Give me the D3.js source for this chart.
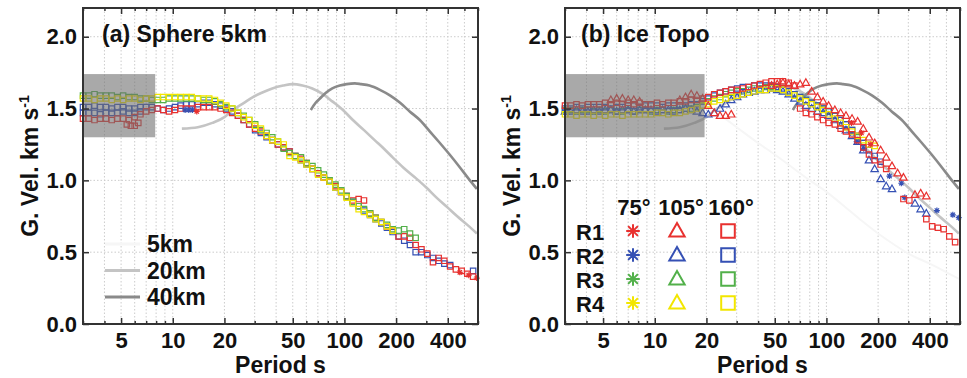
<!DOCTYPE html>
<html>
<head>
<meta charset="utf-8">
<script src="https://cdn.jsdelivr.net/npm/d3@7/dist/d3.min.js"></script>
<style>
  body { margin: 0; background: #fff; }
  svg text { font-family: "Liberation Sans", Arial, Helvetica, sans-serif; font-weight: bold; fill: #111; }
</style>
</head>
<body>
<svg id="chart" width="967" height="378"></svg>
<script>
// periods (s) the measured group velocities are sampled at
const periods = [3.0, 3.24, 3.5, 3.78, 4.08, 4.41, 4.76, 5.14, 5.55, 6.0,
  6.48, 7.0, 7.55, 8.16, 8.81, 9.51, 10.3, 11.1, 12.0, 12.9,
  14.0, 15.1, 16.3, 17.6, 19.0, 20.5, 22.2, 24.0, 25.9, 27.9,
  30.2, 32.6, 35.2, 38.0, 41.0, 44.3, 47.9, 51.7, 55.8, 60.3,
  65.1, 70.3, 75.9, 82.0, 88.6, 95.7, 103, 112, 121, 130,
  141, 152, 164, 177, 191, 207, 223, 241, 260, 281,
  304, 328, 354, 382, 413, 446, 482, 520, 562];

const xTickValues = [5, 10, 20, 50, 100, 200, 400];
const yTickValues = [0, 0.5, 1.0, 1.5, 2.0];
const receivers = ['R1', 'R2', 'R3', 'R4'];
const distances = ['75°', '105°', '160°'];
const modelNames = ['5km', '20km', '40km'];

// theoretical dispersion curves [period, velocity]
const model5km = [[10, 1.52], [13, 1.54], [17, 1.54], [20, 1.51], [25, 1.44], [30, 1.37], [40, 1.26],
  [50, 1.18], [60, 1.11], [80, 1.0], [100, 0.92], [130, 0.81], [160, 0.72], [200, 0.63],
  [250, 0.55], [300, 0.49], [400, 0.42], [500, 0.36], [600, 0.31]];
const model20km = [[11.3, 1.36], [14, 1.37], [17, 1.40], [20, 1.44], [22.4, 1.49], [26, 1.54], [29.3, 1.58],
  [33, 1.61], [38, 1.64], [44, 1.66], [50, 1.67], [57, 1.66], [65, 1.64], [75, 1.60], [85, 1.55],
  [98, 1.49], [112, 1.42], [130, 1.35], [150, 1.28], [170, 1.22], [191, 1.16], [220, 1.09],
  [258, 1.02], [300, 0.95], [344, 0.88], [400, 0.81], [454, 0.75], [520, 0.69], [591, 0.63]];
const model40km = [[63.7, 1.49], [68, 1.54], [72, 1.57], [78, 1.61], [85, 1.64], [94, 1.66], [103, 1.67],
  [115, 1.675], [125, 1.67], [140, 1.66], [161, 1.63], [185, 1.59], [211, 1.54], [240, 1.48],
  [275, 1.42], [315, 1.34], [360, 1.26], [410, 1.18], [471, 1.09], [530, 1.01], [591, 0.94]];

// (a) Sphere 5km, one value per period
const sphereR1 = [1.43, 1.43, 1.42, 1.43, 1.43, 1.42, 1.43, 1.43, 1.42, 1.44,
  1.46, 1.48, 1.49, 1.50, 1.49, 1.48, 1.49, 1.50, 1.50, 1.50,
  1.51, 1.51, 1.51, 1.51, 1.50, 1.49, 1.47, 1.45, 1.42, 1.39,
  1.36, 1.34, 1.31, 1.28, 1.25, 1.23, 1.20, 1.17, 1.15, 1.12,
  1.08, 1.05, 1.02, 0.99, 0.96, 0.92, 0.89, 0.86, 0.87, 0.86,
  0.77, 0.74, 0.71, 0.68, 0.65, 0.61, 0.61, 0.60, 0.55, 0.52,
  0.49, 0.43, 0.46, 0.44, 0.40, 0.38, 0.37, 0.35, 0.33];
const sphereR2 = [1.51, 1.51, 1.52, 1.51, 1.51, 1.50, 1.51, 1.51, 1.50, 1.50,
  1.51, 1.51, 1.51, 1.50, 1.49, 1.50, 1.51, 1.52, 1.53, 1.53,
  1.53, 1.54, 1.54, 1.53, 1.52, 1.50, 1.48, 1.45, 1.42, 1.39,
  1.35, 1.33, 1.30, 1.28, 1.25, 1.23, 1.20, 1.17, 1.14, 1.11,
  1.08, 1.05, 1.02, 0.99, 0.95, 0.92, 0.89, 0.85, 0.82, 0.79,
  0.76, 0.73, 0.70, 0.67, 0.64, 0.61, 0.58, 0.55, 0.50, 0.50,
  0.48, 0.46, 0.44, 0.42, 0.41, null, null, null, 0.37];
const sphereR3 = [1.59, 1.59, 1.60, 1.59, 1.59, 1.59, 1.58, 1.59, 1.58, 1.58,
  1.57, 1.57, 1.56, 1.56, 1.56, 1.57, 1.57, 1.57, 1.57, 1.57,
  1.57, 1.56, 1.56, 1.55, 1.53, 1.51, 1.50, 1.47, 1.45, 1.42,
  1.39, 1.35, 1.33, 1.30, 1.27, 1.22, 1.19, 1.17, 1.16, 1.12,
  1.10, 1.07, 1.04, 1.00, 0.97, 0.93, 0.89, 0.85, 0.82, 0.80,
  0.77, 0.74, 0.71, 0.69, 0.66, 0.65, 0.66, 0.63, 0.60, null,
  null, null, null, null, null, null, null, null, null];
const sphereR4 = [1.57, 1.57, 1.56, 1.57, 1.57, 1.56, 1.57, 1.56, 1.57, 1.57,
  1.56, 1.57, 1.57, 1.58, 1.58, 1.58, 1.58, 1.58, 1.58, 1.58,
  1.57, 1.57, 1.57, 1.56, 1.54, 1.52, 1.50, 1.47, 1.44, 1.42,
  1.38, 1.36, 1.31, 1.28, 1.27, 1.25, 1.17, 1.16, 1.14, 1.11,
  1.08, 1.04, 1.02, 0.99, 0.95, 0.92, 0.88, 0.84, 0.80, 0.78,
  0.76, 0.73, 0.71, 0.68, 0.65, null, null, null, null, null,
  null, null, null, null, null, null, null, null, null];
// sparse extras [period, velocity]
const sphereR1Low = [[5.4, 1.39], [5.7, 1.38], [6.0, 1.38], [6.3, 1.40]];
const sphereR2Low = [[3.0, 1.47], [3.24, 1.47], [3.5, 1.47], [3.78, 1.46], [4.08, 1.47], [4.41, 1.47],
  [4.76, 1.47], [5.14, 1.48], [5.55, 1.47], [6.0, 1.47], [6.48, 1.48]];
const sphereR1Stars = [[13.8, 1.48], [470, 0.36], [530, 0.34], [590, 0.32]];
const sphereR2Stars = [[11.8, 1.49], [12.4, 1.49], [13.0, 1.49]];

// (b) Ice Topo, one value per period
const topoR1 = [1.52, 1.52, 1.53, 1.52, 1.53, 1.53, 1.53, 1.54, 1.53, 1.54,
  1.53, 1.54, 1.53, 1.54, 1.53, 1.53, 1.54, 1.53, 1.54, 1.54,
  1.55, 1.55, 1.56, 1.56, 1.57, 1.58, 1.60, 1.61, 1.62, 1.63,
  1.63, 1.64, 1.65, 1.66, 1.67, 1.68, 1.69, 1.69, 1.69, 1.68,
  1.66, 1.50, 1.47, 1.46, 1.44, 1.42, 1.40, 1.39, 1.36, 1.34,
  1.32, 1.28, 1.23, 1.18, 1.14, 1.11, 1.08, null, null, 0.87,
  0.86, null, null, 0.73, 0.68, 0.67, 0.66, 0.61, 0.57];
const topoR1Tri = [null, null, null, null, null, null, null, null, 1.56, 1.57,
  1.57, 1.56, 1.56, 1.55, null, null, null, null, null, null,
  1.56, 1.58, 1.60, 1.59, 1.57, 1.52, 1.47, 1.45, 1.45, 1.46,
  null, null, null, null, null, null, 1.66, 1.67, 1.68, 1.67,
  1.66, 1.67, 1.68, 1.62, 1.58, 1.55, 1.52, 1.49, 1.47, 1.45,
  1.43, 1.41, 1.36, 1.30, 1.26, 1.21, 1.16, 1.10, 1.05, 1.02,
  null, 0.90, 0.91, 0.89, null, null, null, null, null];
const topoR2 = [1.50, 1.50, 1.51, 1.50, 1.51, 1.51, 1.51, 1.51, 1.50, 1.51,
  1.51, 1.52, 1.52, 1.51, 1.52, 1.52, 1.52, 1.51, 1.52, 1.52,
  1.52, 1.52, 1.53, 1.53, 1.55, 1.57, 1.59, 1.61, 1.62, 1.63,
  1.64, 1.65, 1.65, 1.66, 1.66, 1.66, 1.66, 1.65, 1.64, 1.62,
  1.60, 1.58, 1.56, 1.54, 1.52, 1.50, 1.48, 1.45, 1.42, 1.39,
  1.35, 1.31, 1.26, 1.21, 1.17, 1.13, null, null, null, null,
  null, null, null, null, null, null, null, null, null];
const topoR2Tri = [1.48, 1.48, 1.49, 1.48, 1.48, 1.49, 1.48, 1.49, 1.49, 1.48,
  1.49, 1.49, 1.48, 1.49, 1.49, 1.49, 1.48, 1.49, 1.49, 1.48,
  1.49, 1.50, 1.49, 1.48, 1.47, 1.46, 1.47, 1.50, 1.53, 1.56,
  1.58, 1.60, 1.61, 1.62, 1.63, 1.63, 1.64, 1.63, 1.62, 1.60,
  1.57, 1.55, 1.52, 1.50, 1.48, 1.47, 1.45, 1.42, 1.38, 1.35,
  1.31, 1.27, 1.21, 1.14, 1.08, 1.01, 0.96, 0.94, null, null,
  null, 0.84, 0.80, 0.77, null, null, null, null, null];
const topoR3 = [1.49, 1.49, 1.48, 1.49, 1.49, 1.48, 1.49, 1.48, 1.49, 1.48,
  1.48, 1.49, 1.48, 1.49, 1.49, 1.48, 1.49, 1.49, 1.48, 1.49,
  1.49, 1.50, 1.50, 1.51, 1.52, 1.55, 1.57, 1.58, 1.60, 1.61,
  1.62, 1.62, 1.63, 1.64, 1.64, 1.65, 1.65, 1.64, 1.63, 1.62,
  1.60, 1.58, 1.56, 1.54, 1.52, 1.50, 1.48, 1.45, 1.42, 1.39,
  1.35, 1.30, 1.26, null, null, null, null, null, null, null,
  null, null, null, null, null, null, null, null, null];
const topoR4 = [1.46, 1.46, 1.45, 1.46, 1.46, 1.45, 1.46, 1.45, 1.46, 1.46,
  1.45, 1.46, 1.46, 1.46, 1.46, 1.46, 1.47, 1.47, 1.46, 1.47,
  1.47, 1.48, 1.49, 1.50, 1.52, 1.53, 1.55, 1.56, 1.57, 1.58,
  1.59, 1.60, 1.61, 1.62, 1.63, 1.63, 1.64, 1.64, 1.63, 1.61,
  1.59, 1.57, 1.55, 1.53, 1.51, 1.49, 1.46, 1.43, 1.40, 1.37,
  1.34, 1.31, 1.28, 1.25, 1.24, null, null, null, null, null,
  null, null, null, null, null, null, null, null, null];
const topoR1Stars = [[140, 1.40], [160, 1.33], [180, 1.25]];
const topoR2Stars = [[150, 1.27], [165, 1.22], [233, 1.03], [273, 0.98], [286, 0.88], [440, 0.79], [545, 0.76], [590, 0.74]];

// grey boxes: period range of each panel, velocity range shared
const shadeA = [3, 7.9];
const shadeB = [3, 19.5];
const shadeVel = [1.30, 1.74];

const colors = { R1: '#e8312f', R2: '#3550b4', R3: '#52b04a', R4: '#f2e600' };
const modelStyle = { '5km': ['#f6f6f6', 2], '20km': ['#c4c4c4', 2.6], '40km': ['#8a8a8a', 2.6] };
const models = { '5km': model5km, '20km': model20km, '40km': model40km };

const onPeriods = vals => vals.map((v, i) => [periods[i], v]).filter(d => d[1] !== null);

const sphereSeries = [
  { pts: onPeriods(sphereR2), rx: 'R2', shape: 'square' },
  { pts: sphereR2Low, rx: 'R2', shape: 'square' },
  { pts: onPeriods(sphereR1), rx: 'R1', shape: 'square' },
  { pts: sphereR1Low, rx: 'R1', shape: 'square' },
  { pts: onPeriods(sphereR3), rx: 'R3', shape: 'square' },
  { pts: onPeriods(sphereR4), rx: 'R4', shape: 'square' },
  { pts: sphereR2Stars, rx: 'R2', shape: 'star' },
  { pts: sphereR1Stars, rx: 'R1', shape: 'star' }
];
const topoSeries = [
  { pts: onPeriods(topoR3), rx: 'R3', shape: 'square' },
  { pts: onPeriods(topoR2Tri), rx: 'R2', shape: 'triangle' },
  { pts: onPeriods(topoR2), rx: 'R2', shape: 'square' },
  { pts: topoR2Stars, rx: 'R2', shape: 'star' },
  { pts: onPeriods(topoR4), rx: 'R4', shape: 'square' },
  { pts: onPeriods(topoR1), rx: 'R1', shape: 'square' },
  { pts: onPeriods(topoR1Tri), rx: 'R1', shape: 'triangle' },
  { pts: topoR1Stars, rx: 'R1', shape: 'star' }
];

const svg = d3.select('#chart');
const plotW = 395, plotH = 316, plotTop = 8;
const x = d3.scaleLog().domain([3, 600]).range([0, plotW]);
const y = d3.scaleLinear().domain([0, 2.2]).range([plotH, 0]);

function markerPath(shape, r) {
  if (shape === 'square') return `M${-r},${-r}h${2 * r}v${2 * r}h${-2 * r}Z`;
  if (shape === 'triangle') return `M0,${-r * 1.15}L${r * 1.1},${r * 0.8}L${-r * 1.1},${r * 0.8}Z`;
  const d = r * 0.72;
  return `M${-r},0H${r}M0,${-r}V${r}M${-d},${-d}L${d},${d}M${-d},${d}L${d},${-d}`;
}

function drawPanel(left, title, series, shade, yTitleX) {
  const g = svg.append('g').attr('transform', `translate(${left},${plotTop})`);

  // dotted grid
  g.append('g').selectAll('line').data(x.ticks()).join('line')
    .attr('x1', d => x(d)).attr('x2', d => x(d))
    .attr('y1', 0).attr('y2', plotH)
    .attr('stroke', '#cccccc').attr('stroke-width', 1).attr('stroke-dasharray', '1.5,2');
  g.append('g').selectAll('line').data(yTickValues.slice(1)).join('line')
    .attr('x1', 0).attr('x2', plotW)
    .attr('y1', d => y(d)).attr('y2', d => y(d))
    .attr('stroke', '#cccccc').attr('stroke-width', 1).attr('stroke-dasharray', '1.5,2');

  // model curves
  const line = d3.line().x(d => x(d[0])).y(d => y(d[1])).curve(d3.curveMonotoneX);
  modelNames.forEach(name => {
    g.append('path').datum(models[name])
      .attr('d', line)
      .attr('fill', 'none')
      .attr('stroke', modelStyle[name][0])
      .attr('stroke-width', modelStyle[name][1]);
  });

  // measured group velocities
  const size = { square: 2.7, triangle: 3.4, star: 3 };
  series.forEach(s => {
    g.append('g').selectAll('path').data(s.pts).join('path')
      .attr('transform', d => `translate(${x(d[0])},${y(d[1])})`)
      .attr('d', markerPath(s.shape, size[s.shape]))
      .attr('fill', 'none')
      .attr('stroke', colors[s.rx])
      .attr('stroke-width', 1.2);
  });

  // grey box
  g.append('rect')
    .attr('x', x(shade[0])).attr('width', x(shade[1]) - x(shade[0]))
    .attr('y', y(shadeVel[1])).attr('height', y(shadeVel[0]) - y(shadeVel[1]))
    .attr('fill', '#6f6f6f').attr('opacity', 0.6);

  // frame and inward ticks
  g.append('rect').attr('width', plotW).attr('height', plotH)
    .attr('fill', 'none').attr('stroke', '#333').attr('stroke-width', 2);

  const minor = x.ticks().filter(t => !xTickValues.includes(t));
  const tidy = a => a.call(s => s.select('.domain').remove()).attr('color', '#333');

  g.append('g').attr('transform', `translate(0,${plotH})`)
    .call(d3.axisBottom(x).tickValues(xTickValues).tickFormat(d3.format('d')).tickSize(-6).tickPadding(8))
    .call(tidy).attr('font-size', 22);
  g.append('g').attr('transform', `translate(0,${plotH})`)
    .call(d3.axisBottom(x).tickValues(minor).tickFormat('').tickSize(-3)).call(tidy);
  g.append('g')
    .call(d3.axisTop(x).tickValues(xTickValues).tickFormat('').tickSize(-6)).call(tidy);
  g.append('g')
    .call(d3.axisTop(x).tickValues(minor).tickFormat('').tickSize(-3)).call(tidy);
  g.append('g')
    .call(d3.axisLeft(y).tickValues(yTickValues).tickFormat(d3.format('.1f')).tickSize(-6).tickPadding(6))
    .call(tidy).attr('font-size', 22);
  g.append('g').attr('transform', `translate(${plotW},0)`)
    .call(d3.axisRight(y).tickValues(yTickValues).tickFormat('').tickSize(-6)).call(tidy);
  g.selectAll('.tick line').attr('stroke-width', 1.5);

  g.append('text').attr('x', plotW / 2).attr('y', 365).attr('text-anchor', 'middle')
    .attr('font-size', 23).text('Period s');
  g.append('text').attr('x', left === 83 ? 19 : 16).attr('y', 34).attr('font-size', 23).text(title);

  const yt = svg.append('text')
    .attr('transform', `translate(${yTitleX},166) rotate(-90)`)
    .attr('text-anchor', 'middle').attr('font-size', 23);
  yt.append('tspan').text('G. Vel. km s');
  yt.append('tspan').attr('font-size', 14).attr('dy', -9).text('-1');

  return g;
}

const gA = drawPanel(83, '(a) Sphere 5km', sphereSeries, shadeA, 38);
const gB = drawPanel(565, '(b) Ice Topo', topoSeries, shadeB, 520);

// legend (a): model curves
modelNames.forEach((name, i) => {
  const base = 244 + i * 26.5;
  gA.append('line').attr('x1', 22).attr('x2', 57).attr('y1', base - 8).attr('y2', base - 8)
    .attr('stroke', modelStyle[name][0]).attr('stroke-width', 3);
  gA.append('text').attr('x', 64).attr('y', base).attr('font-size', 23).text(name);
});

// legend (b): receivers x distances
const colX = [68, 112, 163];
const headX = [69, 116, 166];
const shapes = ['star', 'triangle', 'square'];
distances.forEach((d, j) => {
  gB.append('text').attr('x', headX[j]).attr('y', 207).attr('text-anchor', 'middle')
    .attr('font-size', 22).text(d);
});
receivers.forEach((r, i) => {
  const cy = 223 + i * 24;
  gB.append('text').attr('x', 11).attr('y', cy + 9).attr('font-size', 22).text(r);
  shapes.forEach((s, j) => {
    gB.append('path')
      .attr('transform', `translate(${colX[j]},${cy})`)
      .attr('d', markerPath(s, s === 'triangle' ? 7 : 6.8))
      .attr('fill', 'none').attr('stroke', colors[r]).attr('stroke-width', 2);
  });
});
</script>
</body>
</html>
